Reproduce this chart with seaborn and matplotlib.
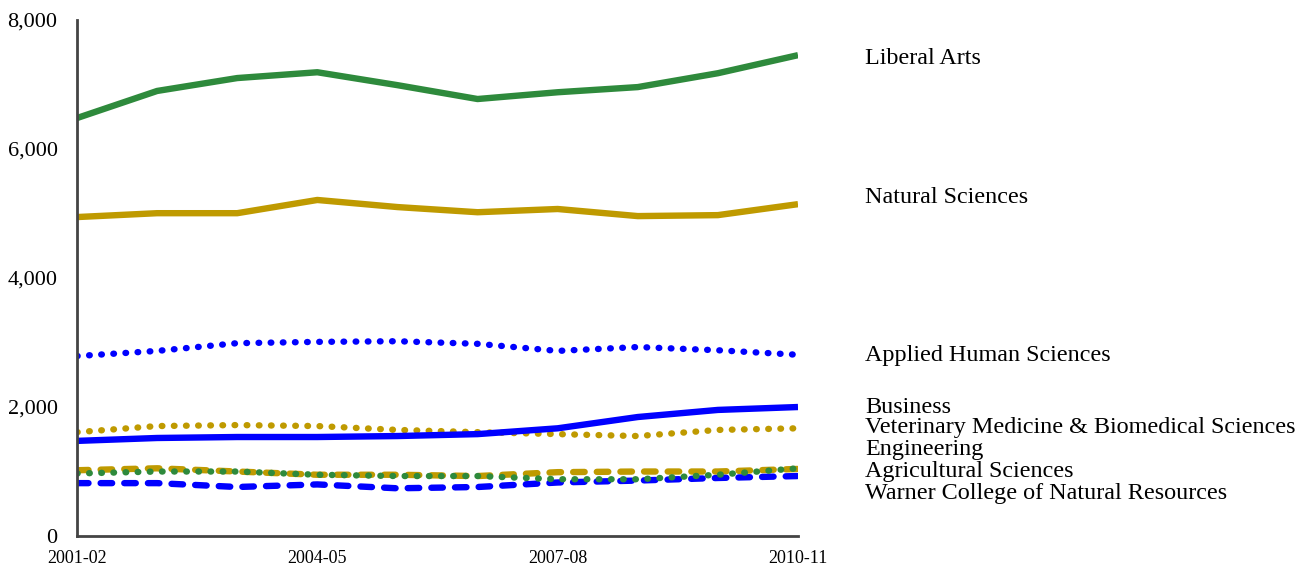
import numpy as np
import pandas as pd
import matplotlib
matplotlib.use("Agg")
import matplotlib.pyplot as plt
import matplotlib.transforms as mtransforms
from matplotlib.ticker import FuncFormatter
import seaborn as sns

# Datos
years = ["2001-02", "2002-03", "2003-04", "2004-05", "2005-06",
         "2006-07", "2007-08", "2008-09", "2009-10", "2010-11"]
liberal_arts = [6480, 6900, 7100, 7190, 6990, 6775, 6880, 6960, 7175, 7455]
natural_sciences = [4945, 5005, 5005, 5210, 5100, 5020, 5070, 4960, 4975, 5145]
applied_human = [2790, 2870, 2990, 3010, 3020, 2980, 2870, 2930, 2880, 2810]
business = [1475, 1520, 1535, 1535, 1550, 1580, 1670, 1845, 1955, 2000]
vet_med = [1610, 1705, 1720, 1705, 1645, 1610, 1580, 1550, 1645, 1670]
engineering = [1020, 1050, 1000, 950, 950, 930, 990, 1000, 1000, 1040]
agricultural = [970, 1000, 1000, 950, 930, 930, 880, 880, 950, 1050]
warner = [820, 820, 760, 800, 740, 760, 830, 860, 900, 930]

tick_years = ["2001-02", "2004-05", "2007-08", "2010-11"]
y_ticks = [0, 2000, 4000, 6000, 8000]

green = "#2e8a3c"
gold = "#bf9a00"
blue = "#0000ff"

dot = (0, (0.1, 1.8))
dash = (0, (1.8, 1.9))

# (nombre, valores, color, estilo, y de etiqueta)
series = [
    ("Liberal Arts", liberal_arts, green, "-", 7409),
    ("Natural Sciences", natural_sciences, gold, "-", 5255),
    ("Applied Human Sciences", applied_human, blue, dot, 2806),
    ("Veterinary Medicine & Biomedical Sciences", vet_med, gold, dot, 1690),
    ("Business", business, blue, "-", 2000),
    ("Engineering", engineering, gold, dash, 1349),
    ("Warner College of Natural Resources", warner, blue, dash, 667),
    ("Agricultural Sciences", agricultural, green, dot, 1008),
]

sns.set_style("white")
plt.rcParams["font.family"] = ["Liberation Serif", "DejaVu Serif"]
plt.rcParams["text.color"] = "black"
plt.rcParams["xtick.color"] = "black"
plt.rcParams["ytick.color"] = "black"

fig = plt.figure(figsize=(13.14, 5.70), dpi=100)
ax = fig.add_axes([0.0586, 0.0596, 0.5487, 0.9053])

x_idx = np.arange(len(years))
for name, vals, col, ls, _ in series:
    df = pd.DataFrame({"x": x_idx, "y": vals})
    sns.lineplot(data=df, x="x", y="y", ax=ax, color=col, linewidth=4.6,
                 linestyle=ls, dash_capstyle="round", solid_capstyle="butt",
                 solid_joinstyle="round")

ax.set_xlim(0, len(years) - 1)
ax.set_ylim(0, 8000)
ax.set_xticks([years.index(t) for t in tick_years])
ax.set_xticklabels(tick_years, fontsize=13)
ax.set_yticks(y_ticks)
ax.yaxis.set_major_formatter(FuncFormatter(lambda v, p: f"{int(v):,}"))
ax.tick_params(axis="y", labelsize=16, length=0, pad=14, labelcolor="black")
ax.tick_params(axis="x", length=0, pad=10, labelcolor="black")
ax.set_xlabel("")
ax.set_ylabel("")
for s in ["top", "right"]:
    ax.spines[s].set_visible(False)
for s in ["left", "bottom"]:
    ax.spines[s].set_color("#444444")
    ax.spines[s].set_linewidth(2)

trans = mtransforms.blended_transform_factory(ax.transAxes, ax.transData)
for name, vals, col, ls, ly in series:
    ax.text(1.093, ly, name, transform=trans, fontsize=17.4, va="center",
            ha="left", clip_on=False, color="black")

fig.savefig("out.png", dpi=100)
